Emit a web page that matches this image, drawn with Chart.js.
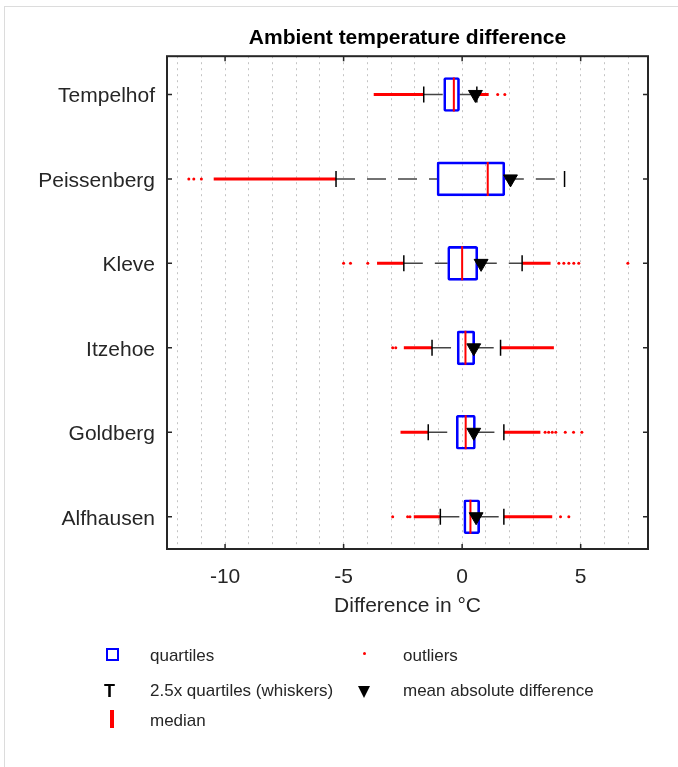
<!DOCTYPE html>
<html>
<head>
<meta charset="utf-8">
<script src="https://cdn.jsdelivr.net/npm/chart.js@4/dist/chart.umd.min.js"></script>
<style>
  body { margin: 0; background: #fff; }
  #wrap { position: relative; width: 678px; height: 767px; overflow: hidden; }
  #frame { position: absolute; left: 4px; top: 6px; right: -2px; bottom: -2px;
           border-left: 1px solid #dcdcdc; border-top: 1px solid #dcdcdc; }
  #chart { position: absolute; left: 0; top: 0; }
  .lg { position: absolute; font: 17px "Liberation Sans", Arial, sans-serif; color: #262626;
        line-height: 20px; white-space: nowrap; }
  .sym { position: absolute; }
</style>
</head>
<body>
<div id="wrap">
  <div id="frame"></div>
  <canvas id="chart" width="678" height="767"></canvas>

  <div class="sym" style="left:106px;top:648px;width:9px;height:9px;border:2px solid #0000ff;"></div>
  <div class="lg" style="left:150px;top:646px;">quartiles</div>
  <div class="sym" style="left:363px;top:652px;width:3px;height:3px;border-radius:50%;background:#ff0000;"></div>
  <div class="lg" style="left:403px;top:646px;">outliers</div>

  <div class="lg" style="left:104px;top:681px;font-weight:bold;font-size:18px;color:#000;">T</div>
  <div class="lg" style="left:150px;top:681px;">2.5x quartiles (whiskers)</div>
  <div class="sym" style="left:358px;top:686px;width:0;height:0;border-left:6px solid transparent;border-right:6px solid transparent;border-top:12px solid #000;"></div>
  <div class="lg" style="left:403px;top:681px;">mean absolute difference</div>

  <div class="sym" style="left:110px;top:710px;width:4px;height:18px;background:#ff0000;"></div>
  <div class="lg" style="left:150px;top:711px;">median</div>
</div>

<script>
// Станции сверху вниз
const stations = ['Tempelhof', 'Peissenberg', 'Kleve', 'Itzehoe', 'Goldberg', 'Alfhausen'];

// Квартили, медиана, усы и среднее (°C)
const q1 = [-0.78, -1.06, -0.61, -0.21, -0.25, 0.07];
const q3 = [-0.11, 1.80, 0.66, 0.53, 0.56, 0.74];
const medians = [-0.35, 1.08, 0.00, 0.14, 0.15, 0.35];
const whiskerLo = [-1.62, -5.32, -2.46, -1.27, -1.43, -0.92];
const whiskerHi = [0.62, 4.32, 2.53, 1.62, 1.76, 1.76];
const means = [0.56, 2.04, 0.80, 0.49, 0.49, 0.59];

// Выбросы: сплошные участки [от, до] и отдельные точки
const outlierBands = [
    [[-3.73, -1.62], [0.62, 1.12]],
    [[-10.48, -5.32]],
    [[-3.59, -2.46], [2.53, 3.73]],
    [[-2.46, -1.27], [1.62, 3.87]],
    [[-2.60, -1.43], [1.76, 3.30]],
    [[-2.04, -0.92], [1.76, 3.80]]
];
const outlierDots = [
    [1.50, 1.80],
    [-11.53, -11.32, -11.00],
    [-5.00, -4.71, -3.98, 4.08, 4.29, 4.50, 4.71, 4.92, 6.99],
    [-2.93, -2.80],
    [3.50, 3.65, 3.80, 3.95, 4.35, 4.70, 5.05],
    [-2.93, -2.30, -2.20, 4.15, 4.50]
];

// Оси
const xMin = -12.45, xMax = 7.84;
const xMajorTicks = [-10, -5, 0, 5];
const yMin = 0.618, yMax = 6.453;

const pos = i => stations.length - i;

// Построение данных для наборов
const boxData = stations.map((s, i) => ({ y: pos(i), x: [q1[i], q3[i]] }));
const whiskerData = [];
const capData = [];
const bandData = [];
const dotData = [];
stations.forEach((s, i) => {
    whiskerData.push({ x: whiskerLo[i], y: pos(i) }, { x: q1[i], y: pos(i) }, { x: null, y: pos(i) });
    whiskerData.push({ x: q3[i], y: pos(i) }, { x: whiskerHi[i], y: pos(i) }, { x: null, y: pos(i) });
    capData.push({ x: whiskerLo[i], y: pos(i) }, { x: whiskerHi[i], y: pos(i) });
    outlierBands[i].forEach(b => {
        bandData.push({ x: b[0], y: pos(i) }, { x: b[1], y: pos(i) }, { x: null, y: pos(i) });
    });
    outlierDots[i].forEach(v => dotData.push({ x: v, y: pos(i) }));
});
const medianData = stations.map((s, i) => ({ x: medians[i], y: pos(i) }));
const meanData = stations.map((s, i) => ({ x: means[i], y: pos(i) }));

// Рамка графика и внутренние засечки как в MATLAB
const framePlugin = {
    id: 'frame',
    afterDraw(chart) {
        const { ctx, chartArea: a, scales } = chart;
        ctx.save();
        ctx.strokeStyle = '#262626';
        ctx.lineWidth = 1.5;
        ctx.beginPath();
        xMajorTicks.forEach(v => {
            const px = scales.x.getPixelForValue(v);
            ctx.moveTo(px, a.bottom); ctx.lineTo(px, a.bottom - 5);
            ctx.moveTo(px, a.top); ctx.lineTo(px, a.top + 5);
        });
        stations.forEach((s, i) => {
            const py = scales.y.getPixelForValue(pos(i));
            ctx.moveTo(a.left, py); ctx.lineTo(a.left + 5, py);
            ctx.moveTo(a.right, py); ctx.lineTo(a.right - 5, py);
        });
        ctx.stroke();
        ctx.lineWidth = 2;
        ctx.strokeRect(a.left, a.top, a.right - a.left, a.bottom - a.top);
        ctx.restore();
    }
};

Chart.defaults.font.family = '"Liberation Sans", Arial, sans-serif';
Chart.defaults.color = '#262626';

new Chart(document.getElementById('chart'), {
    type: 'bar',
    data: {
        datasets: [
            {
                type: 'line', label: 'mean', data: meanData, showLine: false, order: 0,
                pointStyle: 'triangle', rotation: 180, pointRadius: 8,
                pointBackgroundColor: '#000', pointBorderColor: '#000', pointBorderWidth: 1
            },
            {
                type: 'line', label: 'median', data: medianData, showLine: false, order: 1,
                pointStyle: 'line', rotation: 90, pointRadius: 17,
                pointBorderColor: '#ff0000', pointBorderWidth: 2
            },
            {
                type: 'bar', label: 'quartiles', data: boxData, order: 2,
                backgroundColor: 'rgba(255,255,255,0)', borderColor: '#0000ff',
                borderWidth: 2, borderSkipped: false, borderRadius: 2, barThickness: 34
            },
            {
                type: 'line', label: 'caps', data: capData, showLine: false, order: 3,
                pointStyle: 'line', rotation: 90, pointRadius: 8,
                pointBorderColor: '#000', pointBorderWidth: 1.5
            },
            {
                type: 'line', label: 'outliers', data: dotData, showLine: false, order: 4,
                pointStyle: 'circle', pointRadius: 1.5, pointBorderWidth: 0,
                pointBackgroundColor: '#ff0000'
            },
            {
                type: 'line', label: 'outlier bands', data: bandData, order: 5,
                borderColor: '#ff0000', borderWidth: 3, pointRadius: 0, spanGaps: false
            },
            {
                type: 'line', label: 'whiskers', data: whiskerData, order: 6,
                borderColor: '#444', borderWidth: 1.5, borderDash: [19, 12],
                pointRadius: 0, spanGaps: false
            }
        ]
    },
    options: {
        indexAxis: 'y',
        responsive: false,
        animation: false,
        layout: { padding: { left: 0, right: 30, top: 0, bottom: 148 } },
        plugins: {
            legend: { display: false },
            tooltip: { enabled: false },
            title: {
                display: true,
                fullSize: false,
                text: 'Ambient temperature difference',
                color: '#000',
                font: { size: 21, weight: 'bold' },
                padding: { top: 26, bottom: 5 }
            }
        },
        scales: {
            x: {
                type: 'linear',
                min: xMin, max: xMax,
                grid: { color: '#c4c4c4', lineWidth: 1, drawTicks: false },
                border: { display: false, dash: [2, 4] },
                ticks: {
                    stepSize: 1, includeBounds: false, padding: 16,
                    font: { size: 21 }, maxRotation: 0, autoSkip: false,
                    callback: v => xMajorTicks.includes(v) ? String(v) : ''
                },
                title: { display: true, text: 'Difference in °C', font: { size: 21 }, padding: 0 },
                afterFit: s => { s.height = 70; }
            },
            y: {
                type: 'linear',
                min: yMin, max: yMax, offset: false,
                grid: { display: false, drawTicks: false },
                border: { display: false },
                afterBuildTicks: s => { s.ticks = stations.map((n, i) => ({ value: pos(i) })); },
                ticks: {
                    padding: 12, labelOffset: 2, font: { size: 21 }, autoSkip: false,
                    callback: v => stations[stations.length - v]
                },
                afterFit: s => { s.width = 167; }
            }
        }
    },
    plugins: [framePlugin]
});
</script>
</body>
</html>
